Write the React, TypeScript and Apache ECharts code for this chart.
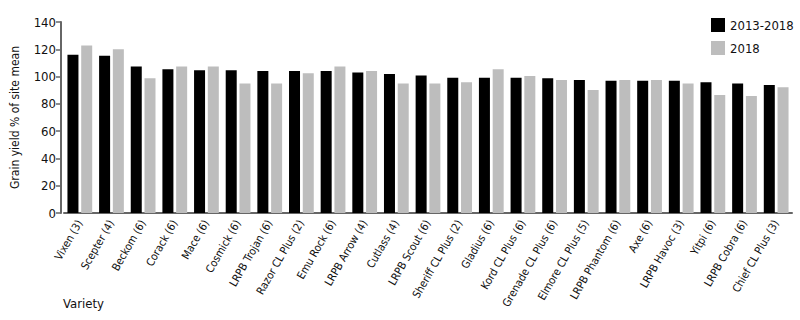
import React, { useEffect, useRef } from "react";
import * as echarts from "echarts";

const categories = [
  "Vixen (3)", "Scepter (4)", "Beckom (6)", "Corack (6)", "Mace (6)", "Cosmick (6)",
  "LRPB Trojan (6)", "Razor CL Plus (2)", "Emu Rock (6)", "LRPB Arrow (4)", "Cutlass (4)",
  "LRPB Scout (6)", "Sheriff CL Plus (2)", "Gladius (6)", "Kord CL Plus (6)",
  "Grenade CL Plus (6)", "Elmore CL Plus (5)", "LRPB Phantom (6)", "Axe (6)",
  "LRPB Havoc (3)", "Yitpi (6)", "LRPB Cobra (6)", "Chief CL Plus (3)",
];
const series2013to2018 = [116, 115.3, 107.3, 105.3, 104.6, 104.6, 104.1, 104, 104, 102.9, 101.9, 100.7, 99.2, 99.2, 99.2, 98.7, 97.5, 97, 97, 97, 95.8, 95, 93.8];
const series2018 = [122.7, 120, 98.7, 107.3, 107.3, 95, 95, 102.4, 107.3, 104, 95, 95, 95.8, 105.3, 100.4, 97.5, 90.2, 97.5, 97.5, 95, 86.5, 85.8, 92.2];
const yTicks = { min: 0, max: 140, interval: 20 };

const FONT = "'Liberation Sans Narrow', 'DejaVu Sans Condensed', 'Roboto Condensed', sans-serif";

export default function App() {
  const ref = useRef<HTMLDivElement>(null);
  useEffect(() => {
    if (!ref.current) return;
    const chart = echarts.init(ref.current, undefined, { renderer: "svg" });
    chart.setOption({
      animation: false,
      backgroundColor: "#ffffff",
      textStyle: { fontFamily: FONT },
      grid: { left: 64, right: 8, top: 22, bottom: 107, containLabel: false },
      legend: {
        orient: "vertical",
        left: 706,
        top: 13,
        itemWidth: 14,
        itemHeight: 14,
        itemGap: 9,
        icon: "rect",
        textStyle: { fontFamily: FONT, fontSize: 13, color: "#111" },
        data: ["2013-2018", "2018"],
      },
      xAxis: {
        type: "category",
        data: categories,
        axisLine: { lineStyle: { color: "#666", width: 2 } },
        axisTick: { alignWithLabel: true, length: 5, lineStyle: { color: "#666", width: 1.5 } },
        axisLabel: {
          rotate: 60,
          interval: 0,
          margin: 8,
          fontSize: 11,
          fontFamily: FONT,
          color: "#111",
        },
      },
      yAxis: {
        type: "value",
        min: yTicks.min,
        max: yTicks.max,
        interval: yTicks.interval,
        offset: 3,
        name: "Grain yield % of site mean",
        nameLocation: "middle",
        nameRotate: 90,
        nameGap: 40,
        nameTextStyle: { fontSize: 12, fontFamily: FONT, color: "#111" },
        splitLine: { show: false },
        axisLine: { show: true, lineStyle: { color: "#666", width: 2 } },
        axisTick: { show: true, length: 5, lineStyle: { color: "#666", width: 1.5 } },
        axisLabel: { fontSize: 13, fontFamily: FONT, color: "#111", margin: 5 },
      },
      graphic: [
        {
          type: "text",
          left: 63,
          top: 297,
          style: { text: "Variety", fontSize: 13, fontFamily: FONT, fill: "#111" },
        },
      ],
      series: [
        {
          name: "2013-2018",
          type: "bar",
          data: series2013to2018,
          barWidth: 11,
          barGap: "25%",
          itemStyle: { color: "#000000" },
        },
        {
          name: "2018",
          type: "bar",
          data: series2018,
          barWidth: 11,
          itemStyle: { color: "#bdbdbd" },
        },
      ],
    });
    return () => chart.dispose();
  }, []);
  return <div ref={ref} style={{ width: 800, height: 320, position: "absolute", left: 0, top: 0 }} />;
}
